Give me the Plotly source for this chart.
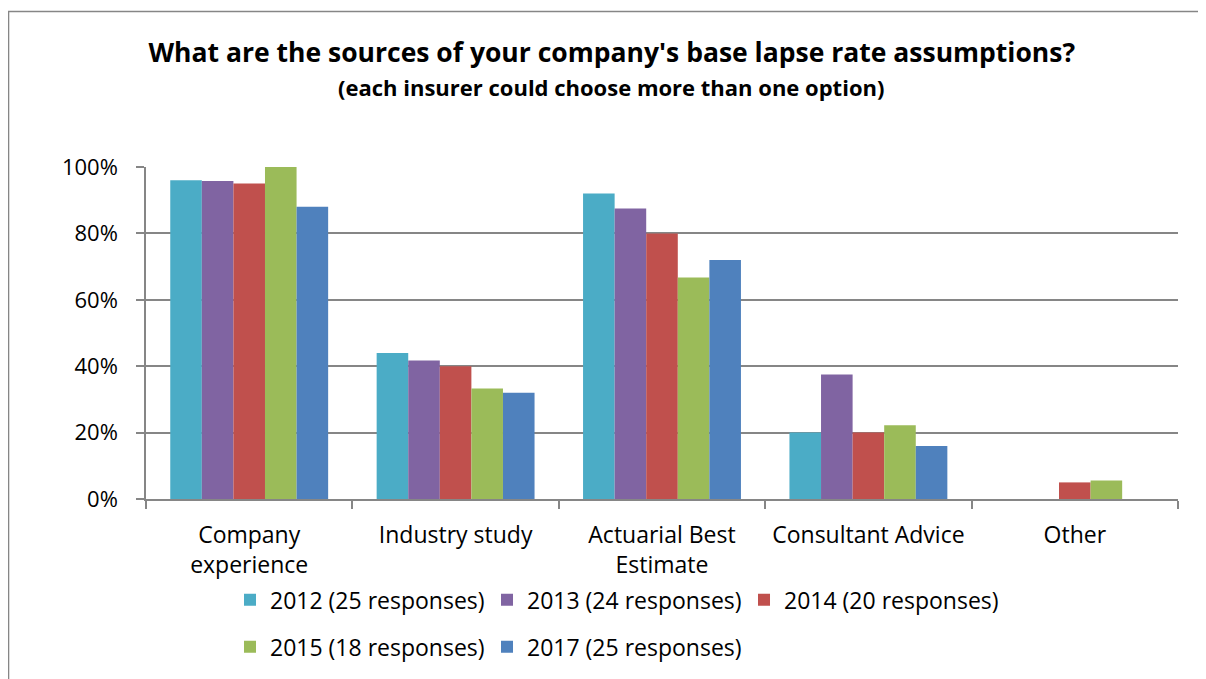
import plotly.graph_objects as go

categories = ["Company<br>experience", "Industry study", "Actuarial Best<br>Estimate",
              "Consultant Advice", "Other"]

series_names = ["2012 (25 responses)", "2013 (24 responses)", "2014 (20 responses)",
                "2015 (18 responses)", "2017 (25 responses)"]

values_2012 = [0.96, 0.44, 0.92, 0.20, 0.0]
values_2013 = [0.958, 0.417, 0.875, 0.375, 0.0]
values_2014 = [0.95, 0.40, 0.80, 0.20, 0.05]
values_2015 = [1.0, 0.333, 0.667, 0.222, 0.056]
values_2017 = [0.88, 0.32, 0.72, 0.16, 0.0]

colors = ["#4BACC6", "#8064A2", "#C0504D", "#9BBB59", "#4F81BD"]

FONT = "Open Sans"
GREY = "#868686"

fig = go.Figure()
all_values = [values_2012, values_2013, values_2014, values_2015, values_2017]
for i, (name, vals, col) in enumerate(zip(series_names, all_values, colors)):
    # first three entries in the top legend row, the rest in the second row
    fig.add_trace(go.Bar(
        x=categories, y=vals, name=name,
        marker=dict(color=col, line=dict(width=0)),
        legend="legend" if i < 3 else "legend2",
    ))

# the page body has an 8px margin, so the figure is 8px smaller than the window
fig.update_layout(
    width=1198, height=671,
    margin=dict(l=138, r=28, t=159, b=179),
    paper_bgcolor="white", plot_bgcolor="white",
    font=dict(family=FONT, size=23, color="black"),
    barmode="group", bargap=0.235, bargroupgap=0,
    title=dict(
        text="<b>What are the sources of your company's base lapse rate assumptions?</b>",
        x=0.504, xref="container", xanchor="center",
        y=1 - 45 / 671, yref="container", yanchor="middle",
        font=dict(family=FONT, size=26.5, color="black"),
    ),
    legend=dict(orientation="h", x=0.0814, xanchor="left", y=-0.300, yanchor="middle",
                entrywidth=212, entrywidthmode="pixels", font=dict(size=23),
                bgcolor="rgba(0,0,0,0)", traceorder="normal"),
    legend2=dict(orientation="h", x=0.0814, xanchor="left", y=-0.441, yanchor="middle",
                 entrywidth=212, entrywidthmode="pixels", font=dict(size=23),
                 bgcolor="rgba(0,0,0,0)", traceorder="normal"),
    showlegend=True,
)

fig.add_annotation(
    text="<b>(each insurer could choose more than one option)</b>",
    xref="paper", yref="paper", x=0.451, y=1.240,
    xanchor="center", yanchor="middle", showarrow=False,
    font=dict(family=FONT, size=22, color="black"),
)

fig.update_yaxes(
    range=[0, 1], tickvals=[0, 0.2, 0.4, 0.6, 0.8, 1.0], tickformat=".0%",
    showgrid=True, gridcolor=GREY, gridwidth=1.5,
    showline=True, linecolor=GREY, linewidth=1.5,
    ticks="outside", ticklen=8, tickcolor=GREY, tickwidth=1.5,
    ticklabelstandoff=14, zeroline=False, tickfont=dict(size=22),
)
fig.update_xaxes(
    showline=True, linecolor=GREY, linewidth=1.5,
    ticks="outside", ticklen=8, tickcolor=GREY, tickwidth=1.5, tickson="boundaries",
    ticklabelstandoff=15, showgrid=False, tickfont=dict(size=23),
)

# chart border (open to the right and bottom as in the source)
fig.add_shape(type="rect", xref="paper", yref="paper",
              x0=-0.1332, x1=1.05, y0=-0.6, y1=1.468,
              line=dict(color=GREY, width=1.5), fillcolor="rgba(0,0,0,0)", layer="below")

fig.write_html("out.html")
